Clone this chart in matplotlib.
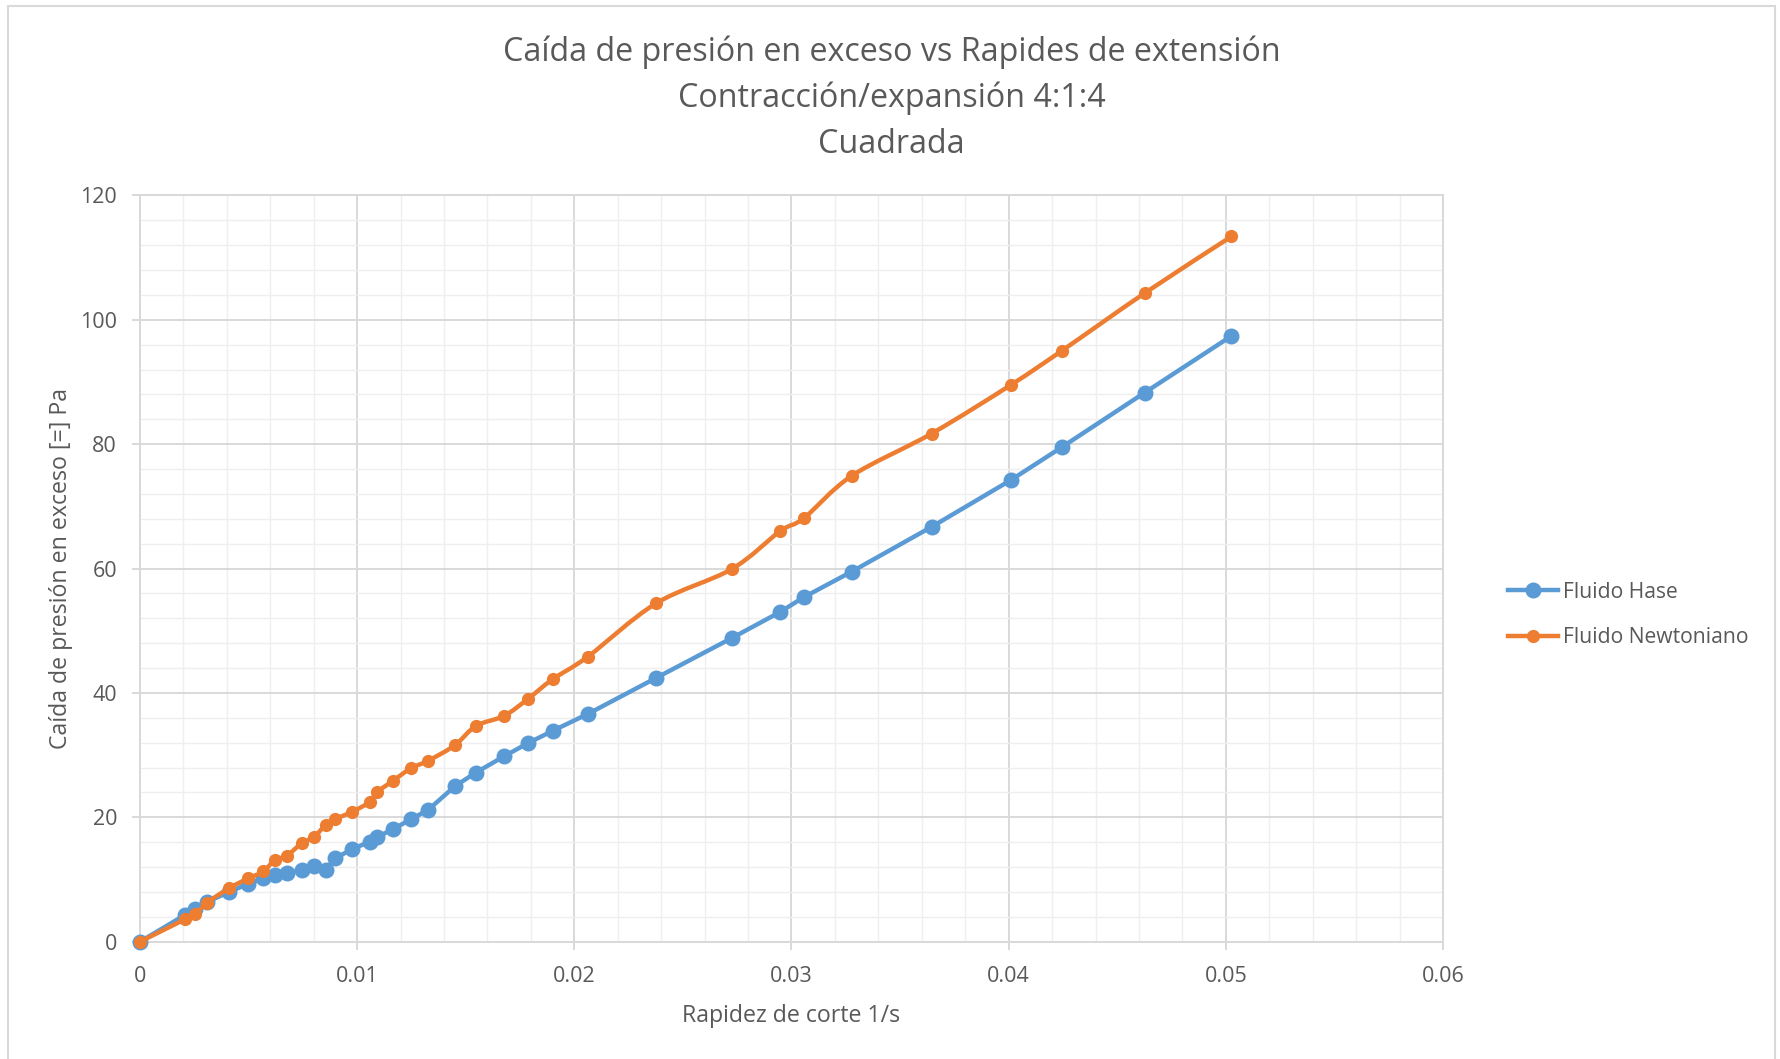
import numpy as np
import matplotlib
matplotlib.use("Agg")
import matplotlib.pyplot as plt
from matplotlib.patches import Rectangle
from matplotlib.path import Path
from matplotlib.patches import PathPatch
from matplotlib.lines import Line2D

plt.rcParams['font.family'] = ['Open Sans', 'DejaVu Sans']

# Shear / extension rate [1/s]
rapidez = [0, 0.00207, 0.00255, 0.0031, 0.0041, 0.00499, 0.00568, 0.0062, 0.00675,
           0.00744, 0.00803, 0.00855, 0.00898, 0.00978, 0.01059, 0.0109, 0.01166,
           0.01248, 0.01327, 0.0145, 0.01547, 0.01676, 0.01785, 0.019, 0.02061,
           0.02376, 0.02724, 0.02947, 0.03057, 0.03277, 0.03645, 0.04009, 0.04244,
           0.04627, 0.05026]

# Excess pressure drop [Pa]
caida_hase = [0, 4.3, 5.2, 6.4, 8.0, 9.3, 10.2, 10.7, 11.1, 11.5, 12.2, 11.6, 13.4,
              14.9, 16.1, 16.8, 18.1, 19.7, 21.2, 25.0, 27.2, 29.8, 31.9, 33.9, 36.6,
              42.4, 48.8, 53.0, 55.4, 59.5, 66.7, 74.2, 79.5, 88.3, 97.4]
caida_newtoniano = [0, 3.6, 4.45, 6.3, 8.6, 10.2, 11.3, 13.1, 13.8, 15.8, 16.9, 18.8,
                    19.7, 20.9, 22.5, 24.0, 25.9, 27.9, 29.1, 31.6, 34.7, 36.3, 39.0,
                    42.2, 45.8, 54.4, 59.9, 66.0, 68.1, 74.9, 81.7, 89.5, 95.0, 104.3,
                    113.4]

series_names = ["Fluido Hase", "Fluido Newtoniano"]
x_ticks = [0, 0.01, 0.02, 0.03, 0.04, 0.05, 0.06]
x_tick_labels = ["0", "0.01", "0.02", "0.03", "0.04", "0.05", "0.06"]
y_ticks = [0, 20, 40, 60, 80, 100, 120]

titulo = ["Caída de presión en exceso vs Rapides de extensión",
          "Contracción/expansión 4:1:4",
          "Cuadrada"]

BLUE = "#5B9BD5"
ORANGE = "#ED7D31"
TEXT = "#595959"
GRID_MAJOR = "#D9D9D9"
GRID_MINOR = "#EFEFEF"

W, H = 1781, 1059
fig = plt.figure(figsize=(W / 100, H / 100), dpi=100)
ax = fig.add_axes([140 / W, 1 - 941.7 / H, (1443 - 140) / W, (941.7 - 195.4) / H])

ax.set_xlim(0, 0.06)
ax.set_ylim(0, 120)
ax.set_xticks(x_ticks)
ax.set_xticklabels(x_tick_labels)
ax.set_yticks(y_ticks)
ax.set_xticks(np.arange(0, 0.0601, 0.002), minor=True)
ax.set_yticks(np.arange(0, 120.1, 4), minor=True)
ax.grid(True, which='major', color=GRID_MAJOR, lw=1.4, zorder=0)
ax.grid(True, which='minor', color=GRID_MINOR, lw=1.0, zorder=0)
ax.set_axisbelow(True)
for s in ax.spines.values():
    s.set_color(GRID_MAJOR)
    s.set_linewidth(1.4)
ax.tick_params(which='major', direction='out', length=5.5, width=1.4, color=GRID_MAJOR,
               labelcolor=TEXT, labelsize=15.5)
ax.tick_params(axis='x', which='major', pad=12)
ax.tick_params(axis='y', which='major', pad=11)
ax.tick_params(which='minor', length=0)

# Hase series: straight segments
ax.plot(rapidez, caida_hase, color=BLUE, lw=3.2, marker='o', ms=11.5,
        markeredgewidth=0, zorder=3, solid_capstyle='round', clip_on=False)

# Newtonian series: smoothed curve (cubic Bezier through points, computed in pixel space)
fig.canvas.draw()
pts = ax.transData.transform(np.column_stack([rapidez, caida_newtoniano]))
n = len(pts)
verts = [pts[0]]
codes = [Path.MOVETO]
for i in range(n - 1):
    p0 = pts[i - 1] if i > 0 else pts[i]
    p1 = pts[i]
    p2 = pts[i + 1]
    p3 = pts[i + 2] if i + 2 < n else pts[i + 1]
    c1 = p1 + (p2 - p0) / 6.0
    c2 = p2 - (p3 - p1) / 6.0
    verts += [c1, c2, p2]
    codes += [Path.CURVE4] * 3
verts = ax.transData.inverted().transform(np.array(verts))
curve = PathPatch(Path(verts, codes), facecolor='none', edgecolor=ORANGE, lw=3.2,
                  zorder=4, capstyle='round', joinstyle='round', clip_on=False)
ax.add_patch(curve)
ax.plot(rapidez, caida_newtoniano, linestyle='none', marker='o', ms=9.5,
        color=ORANGE, markeredgewidth=0, zorder=5, clip_on=False)

ax.set_xlabel("Rapidez de corte 1/s", color=TEXT, fontsize=16.7, labelpad=12)
ax.set_ylabel("Caída de presión en exceso [=] Pa", color=TEXT, fontsize=16.7, labelpad=5)

# Title lines
for yy, line in zip([52, 98, 145], titulo):
    fig.text(891.5 / W, 1 - yy / H, line, ha='center', va='center', color=TEXT,
             fontsize=23.2)

# Legend
handles = [Line2D([], [], color=BLUE, lw=3.2, marker='o', ms=11.5, markeredgewidth=0),
           Line2D([], [], color=ORANGE, lw=3.2, marker='o', ms=9.5, markeredgewidth=0)]
leg = fig.legend(handles, series_names, loc='center left',
                 bbox_to_anchor=(1497 / W, 1 - 615 / H), frameon=False,
                 fontsize=15.2, handlelength=2.4, handletextpad=0.25, labelspacing=1.15,
                 borderpad=0)
for t in leg.get_texts():
    t.set_color(TEXT)

# Chart-area border
fig.patches.append(Rectangle((8 / W, -0.01), (1775 - 8) / W, 1 - 6 / H + 0.01,
                             transform=fig.transFigure, fill=False,
                             edgecolor=GRID_MAJOR, lw=1.5))

fig.savefig("out.png", dpi=100)
